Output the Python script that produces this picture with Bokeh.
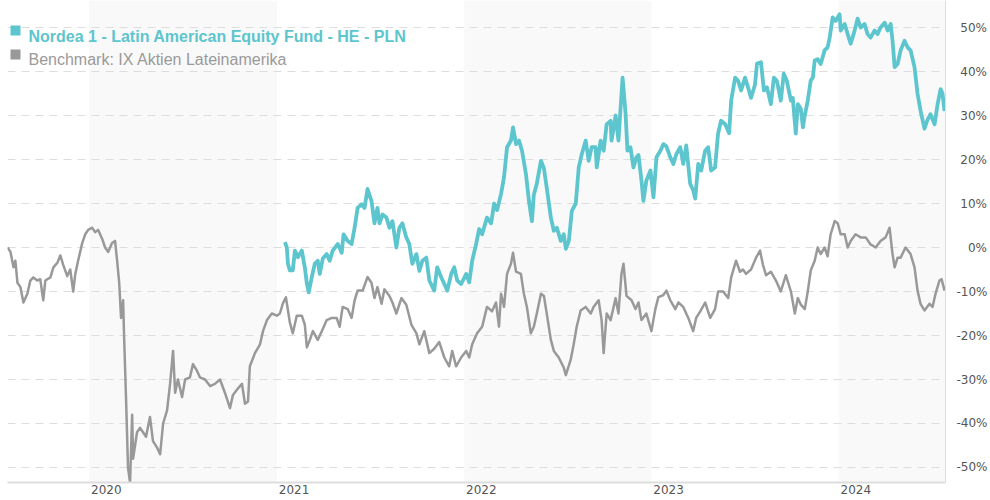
import pandas as pd
from bokeh.plotting import figure
from bokeh.models import Range1d, FixedTicker, Label, BoxAnnotation, ColumnDataSource
from bokeh.embed import file_html
from bokeh.resources import INLINE

FUND_NAME = "Nordea 1 - Latin American Equity Fund - HE - PLN"
BENCH_NAME = "Benchmark: IX Aktien Lateinamerika"

# decimal years and cumulative performance in %
BENCH_T = [2019.564, 2019.580, 2019.596, 2019.606, 2019.617, 2019.633, 2019.649, 2019.670, 2019.686, 2019.702,
           2019.723, 2019.739, 2019.755, 2019.766, 2019.793, 2019.809, 2019.830, 2019.846, 2019.862, 2019.883,
           2019.899, 2019.915, 2019.926, 2019.941, 2019.963, 2019.979, 2019.995, 2020.016, 2020.032, 2020.048,
           2020.069, 2020.085, 2020.101, 2020.122, 2020.138, 2020.149, 2020.160, 2020.170, 2020.181, 2020.186,
           2020.197, 2020.207, 2020.218, 2020.229, 2020.234, 2020.255, 2020.271, 2020.287, 2020.303, 2020.324,
           2020.340, 2020.362, 2020.378, 2020.394, 2020.415, 2020.431, 2020.447, 2020.458, 2020.473, 2020.495,
           2020.511, 2020.537, 2020.553, 2020.574, 2020.590, 2020.617, 2020.644, 2020.670, 2020.697, 2020.723,
           2020.750, 2020.766, 2020.793, 2020.814, 2020.830, 2020.846, 2020.856, 2020.883, 2020.910, 2020.926,
           2020.947, 2020.973, 2021.000, 2021.016, 2021.032, 2021.048, 2021.069, 2021.085, 2021.106, 2021.133,
           2021.149, 2021.160, 2021.176, 2021.192, 2021.218, 2021.245, 2021.266, 2021.293, 2021.319, 2021.335,
           2021.351, 2021.378, 2021.399, 2021.415, 2021.431, 2021.458, 2021.484, 2021.505, 2021.521, 2021.537,
           2021.559, 2021.574, 2021.601, 2021.617, 2021.638, 2021.665, 2021.691, 2021.718, 2021.745, 2021.761,
           2021.787, 2021.814, 2021.840, 2021.867, 2021.894, 2021.920, 2021.936, 2021.957, 2021.984, 2022.011,
           2022.027, 2022.043, 2022.069, 2022.096, 2022.122, 2022.149, 2022.170, 2022.186, 2022.197, 2022.213,
           2022.229, 2022.250, 2022.261, 2022.277, 2022.303, 2022.319, 2022.335, 2022.356, 2022.372, 2022.388,
           2022.410, 2022.426, 2022.441, 2022.463, 2022.479, 2022.505, 2022.532, 2022.543, 2022.569, 2022.585,
           2022.601, 2022.622, 2022.649, 2022.676, 2022.691, 2022.718, 2022.734, 2022.745, 2022.761, 2022.782,
           2022.809, 2022.824, 2022.840, 2022.851, 2022.867, 2022.894, 2022.915, 2022.931, 2022.947, 2022.973,
           2023.000, 2023.021, 2023.037, 2023.064, 2023.080, 2023.101, 2023.128, 2023.144, 2023.170, 2023.197,
           2023.223, 2023.239, 2023.261, 2023.287, 2023.314, 2023.340, 2023.356, 2023.383, 2023.410, 2023.426,
           2023.452, 2023.473, 2023.489, 2023.505, 2023.532, 2023.559, 2023.580, 2023.596, 2023.612, 2023.638,
           2023.665, 2023.691, 2023.718, 2023.745, 2023.766, 2023.782, 2023.798, 2023.819, 2023.835, 2023.851,
           2023.872, 2023.888, 2023.904, 2023.925, 2023.941, 2023.957, 2023.979, 2023.995, 2024.011, 2024.032,
           2024.048, 2024.064, 2024.090, 2024.117, 2024.144, 2024.170, 2024.197, 2024.223, 2024.250, 2024.271,
           2024.287, 2024.298, 2024.314, 2024.330, 2024.356, 2024.383, 2024.404, 2024.420, 2024.436, 2024.457,
           2024.484, 2024.500, 2024.516, 2024.537, 2024.548, 2024.564]
BENCH_V = [0, -1, -4.5, -3, -8, -9, -12.5, -10.5, -7.5, -6.8,
           -7.5, -7.2, -12, -7.5, -6.8, -4.5, -3.5, -1.8, -4, -6.5,
           -5, -10, -6, -3, 1, 3, 4, 4.5, 3.5, 4,
           2, 0, -1, 1, 1.5, -3, -8, -16, -12, -20,
           -35, -50, -53.5, -38, -48, -42, -41, -42, -43, -38.5,
           -44, -45.5, -47, -40, -37, -31, -23.5, -33, -30, -34,
           -30, -29.5, -26.5, -28, -29.5, -30, -31.5, -31, -30, -33,
           -36.5, -33.5, -32, -31, -35.5, -35, -27, -24, -22, -19,
           -16.5, -15, -15.5, -15, -12.7, -11.3, -17, -19.5, -15.5, -15.5,
           -17.5, -22.7, -21, -19, -21, -18.5, -16.5, -16, -16, -18,
           -13.5, -14, -16, -12, -9.8, -9.8, -6.7, -8, -11.5, -9,
           -12.8, -9.5, -11, -12.5, -15, -11.5, -13, -17.5, -19.5, -22,
           -19, -24, -23, -21.5, -25, -27, -23.5, -27, -25, -23.5,
           -25, -22, -19.5, -18, -13.5, -14.5, -12.5, -18, -10.5, -13.5,
           -6, -3.7, -1.2, -5.5, -6, -10.5, -13.5, -19.5, -18, -15,
           -10.5, -11, -15, -21, -23.5, -25, -27.3, -29, -25.5, -22,
           -18, -14.3, -13.5, -15, -13.5, -12, -16.5, -24, -15, -16.5,
           -11.5, -15, -6, -3.7, -11, -12, -14, -12.5, -16.5, -15,
           -19, -14, -11.3, -10.8, -9.8, -12, -14, -12.5, -13.5, -16,
           -19, -16, -14.5, -12.5, -16, -14, -10, -10, -11.5, -6.8,
           -3, -5.5, -5, -6, -5, -2.3, -0.7, -4, -6.3, -5.5,
           -7.5, -10, -6.3, -10, -15, -11.5, -13, -14, -10, -5.2,
           -3, 0, -1.5, 0, -2, 3, 6, 5.5, 3, 3,
           0, 1.5, 3, 2.3, 2.3, 0.7, 0, 1.5, 2.3, 4.5,
           -1.5, -4.5, -2.3, -2.3, 0, -1.5, -4.5, -9.8, -12.8, -14.3,
           -12.8, -13.5, -10.5, -7.5, -7.2, -9.8]

FUND_T = [2021.043, 2021.053, 2021.059, 2021.069, 2021.085, 2021.096, 2021.112, 2021.133, 2021.149, 2021.160,
          2021.170, 2021.186, 2021.202, 2021.218, 2021.229, 2021.245, 2021.266, 2021.282, 2021.298, 2021.325,
          2021.346, 2021.356, 2021.378, 2021.399, 2021.415, 2021.431, 2021.452, 2021.468, 2021.484, 2021.505,
          2021.521, 2021.537, 2021.548, 2021.564, 2021.585, 2021.601, 2021.617, 2021.638, 2021.654, 2021.670,
          2021.691, 2021.707, 2021.723, 2021.745, 2021.761, 2021.777, 2021.798, 2021.814, 2021.840, 2021.856,
          2021.878, 2021.894, 2021.910, 2021.931, 2021.947, 2021.963, 2021.984, 2022.011, 2022.027, 2022.043,
          2022.064, 2022.080, 2022.096, 2022.122, 2022.144, 2022.160, 2022.176, 2022.197, 2022.213, 2022.229,
          2022.250, 2022.261, 2022.277, 2022.293, 2022.309, 2022.330, 2022.346, 2022.362, 2022.372, 2022.388,
          2022.410, 2022.426, 2022.441, 2022.463, 2022.479, 2022.495, 2022.516, 2022.532, 2022.543, 2022.559,
          2022.575, 2022.596, 2022.612, 2022.628, 2022.649, 2022.665, 2022.681, 2022.702, 2022.708, 2022.729,
          2022.745, 2022.761, 2022.782, 2022.787, 2022.809, 2022.824, 2022.846, 2022.862, 2022.872, 2022.888,
          2022.904, 2022.920, 2022.931, 2022.947, 2022.957, 2022.973, 2022.995, 2023.011, 2023.027, 2023.048,
          2023.064, 2023.080, 2023.101, 2023.117, 2023.133, 2023.154, 2023.170, 2023.186, 2023.207, 2023.223,
          2023.234, 2023.250, 2023.266, 2023.287, 2023.303, 2023.319, 2023.340, 2023.356, 2023.372, 2023.394,
          2023.415, 2023.426, 2023.447, 2023.463, 2023.479, 2023.500, 2023.516, 2023.532, 2023.553, 2023.564,
          2023.585, 2023.601, 2023.617, 2023.638, 2023.654, 2023.670, 2023.691, 2023.707, 2023.723, 2023.745,
          2023.755, 2023.771, 2023.782, 2023.798, 2023.809, 2023.819, 2023.835, 2023.851, 2023.862, 2023.872,
          2023.888, 2023.904, 2023.925, 2023.941, 2023.952, 2023.968, 2023.984, 2024.005, 2024.011, 2024.032,
          2024.048, 2024.064, 2024.085, 2024.101, 2024.117, 2024.138, 2024.154, 2024.170, 2024.191, 2024.207,
          2024.223, 2024.245, 2024.261, 2024.277, 2024.287, 2024.298, 2024.314, 2024.330, 2024.351, 2024.367,
          2024.383, 2024.404, 2024.420, 2024.436, 2024.457, 2024.473, 2024.489, 2024.511, 2024.527, 2024.543,
          2024.553, 2024.564]
FUND_V = [1.2, 0, -3.7, -5.2, -5.2, -0.7, -2.2, -0.7, -4.5, -8.2,
          -10.2, -6.8, -3.7, -3, -6, -2.5, -1.5, -3, -0.7, 0.8,
          -1.2, 3, 1.5, 0.8, 4.5, 9, 9.8, 9, 13.3, 10.6,
          5.5, 9, 5.5, 7.5, 6.8, 4.5, 6, 0, 4.5, 5.5,
          2.3, 0.8, -3.7, -1.5, -5.3, -3, -2.3, -7.5, -9.8, -4.5,
          -6.8, -8.3, -9.8, -6, -4.5, -7.5, -8.3, -6, -7.9, -3,
          0.8, 4.2, 3, 6.8, 5.5, 10, 8.5, 12.2, 16, 22.8,
          24.3, 27.3, 23.5, 24.3, 22, 16.7, 10.6, 6, 12, 14.5,
          19.7, 18, 13.6, 6.8, 3.8, 4.5, 1.5, 3, -0.3, 1.5,
          8.3, 10, 18.2, 21.2, 24.3, 19.7, 22.8, 22.8, 18.2, 24.3,
          22, 28, 28.8, 24.3, 30, 24.3, 38.6, 30.5, 22, 22.8,
          18.2, 20.5, 21, 15.2, 10.6, 15.2, 17.5, 11.4, 20.5, 22,
          23.5, 23, 20.5, 19, 21.2, 22.8, 19, 23.2, 14.5, 13,
          11.1, 19, 17.5, 22, 22.8, 17.5, 18.2, 25.9, 28.8, 28,
          26, 33.4, 38.6, 37.9, 35.7, 38.6, 36.4, 34, 37, 41.8,
          42.1, 35.7, 36.4, 32.6, 38.6, 37.9, 33.4, 39.5, 37.9, 33.4,
          34, 25.9, 32.6, 31.5, 27.3, 30, 33.4, 38, 38.6, 42.5,
          42.8, 41.7, 44.8, 45.5, 47.7, 52.3, 51.5, 53, 49.3, 50.8,
          48.5, 46.3, 49.3, 52, 50, 50.8, 48.5, 47.7, 49.3, 48.5,
          50, 51.1, 49.3, 50.8, 47, 41, 41.7, 44.8, 47, 45.5,
          44.8, 41, 35, 31.1, 27, 29, 30.3, 28, 32.6, 36,
          35, 31]

Y_TICKS = [-50, -40, -30, -20, -10, 0, 10, 20, 30, 40, 50]
Y_LABELS = ["-50%", "-40%", "-30%", "-20%", "-10%", "0%", "10%", "20%", "30%", "40%", "50%"]
X_YEARS = [2020, 2021, 2022, 2023, 2024]
X_LABELS = ["2020", "2021", "2022", "2023", "2024"]
SHADED_YEARS = [2020, 2022, 2024]

X_START, X_END = 2019.564, 2024.569
Y_MIN, Y_MAX = -53.41, 56.14

FUND_COLOR = "#5cc5cd"
BENCH_COLOR = "#999999"
AXIS_TEXT = "#555555"


def to_ts(t):
    year = int(t)
    a = pd.Timestamp(year=year, month=1, day=1)
    b = pd.Timestamp(year=year + 1, month=1, day=1)
    return a + (t - year) * (b - a)


def pad_right_aligned(s):
    # mimic right alignment of the y tick labels with fixed-width spaces
    out = s
    if not s.startswith("-"):
        out = "\u00a0" + out
    if len(s.strip("-%")) == 1:
        out = "\u2007" + out
    return out


def pad_left_aligned(s):
    # centred axis labels: a leading blank of digit widths moves the text so it starts at the tick
    return "\u2007" * len(s) + "\u00a0" + s


x0, x1 = to_ts(X_START), to_ts(X_END)

p = figure(width=990, height=500, x_axis_type="datetime", y_axis_location="right",
           x_range=Range1d(x0, x1), y_range=Range1d(Y_MIN, Y_MAX),
           output_backend="svg", toolbar_location=None,
           min_border_left=7, min_border_top=0, min_border_right=42, min_border_bottom=18)
p.outline_line_color = None
p.background_fill_color = "white"
p.border_fill_color = "white"

# alternating year bands
lefts = [to_ts(y) for y in SHADED_YEARS]
rights = [min(to_ts(y + 1), x1) for y in SHADED_YEARS]
p.quad(left=lefts, right=rights, bottom=Y_MIN, top=Y_MAX, fill_color="#f9f9f9",
       line_color=None, level="image")

# grid
p.xgrid.visible = False
p.ygrid.ticker = FixedTicker(ticks=Y_TICKS)
p.ygrid.grid_line_color = "#dddddd"
p.ygrid.grid_line_dash = "8 6"
p.ygrid.grid_line_width = 1

# right y axis
p.yaxis.ticker = FixedTicker(ticks=Y_TICKS)
p.yaxis.major_label_overrides = {v: pad_right_aligned(l) for v, l in zip(Y_TICKS, Y_LABELS)}
p.yaxis.major_label_text_font = "DejaVu Sans"
p.yaxis.major_label_text_font_size = "12px"
p.yaxis.major_label_text_color = AXIS_TEXT
p.yaxis.major_tick_line_color = None
p.yaxis.major_tick_out = 0
p.yaxis.major_tick_in = 0
p.yaxis.minor_tick_line_color = None
p.yaxis.axis_line_color = "#dddddd"
p.yaxis.major_label_standoff = 11

# bottom x axis
year_ms = [to_ts(y).value / 1e6 for y in X_YEARS]
p.xaxis.ticker = FixedTicker(ticks=year_ms)
p.xaxis.major_label_overrides = {m: pad_left_aligned(l) for m, l in zip(year_ms, X_LABELS)}
p.xaxis.major_label_text_font = "DejaVu Sans"
p.xaxis.major_label_text_font_size = "12px"
p.xaxis.major_label_text_color = AXIS_TEXT
p.xaxis.major_tick_line_color = None
p.xaxis.major_tick_out = 0
p.xaxis.major_tick_in = 0
p.xaxis.minor_tick_line_color = None
p.xaxis.axis_line_color = "#dddddd"
p.xaxis.axis_line_width = 2
p.xaxis.major_label_standoff = 0

bench = ColumnDataSource(dict(x=[to_ts(t) for t in BENCH_T], y=BENCH_V))
fund = ColumnDataSource(dict(x=[to_ts(t) for t in FUND_T], y=FUND_V))
p.line("x", "y", source=bench, line_color=BENCH_COLOR, line_width=2.5, line_join="round")
p.line("x", "y", source=fund, line_color=FUND_COLOR, line_width=3.8, line_join="round")

# legend
p.add_layout(BoxAnnotation(left=3, right=13, bottom=447, top=457, left_units="screen",
                           right_units="screen", bottom_units="screen", top_units="screen",
                           fill_color=FUND_COLOR, fill_alpha=1, line_color=None))
p.add_layout(Label(x=21, y=446.5, x_units="screen", y_units="screen", text=FUND_NAME,
                   text_font="Liberation Sans", text_font_size="16px", text_font_style="bold",
                   text_color=FUND_COLOR, text_baseline="alphabetic"))
p.add_layout(BoxAnnotation(left=3, right=13, bottom=423, top=433, left_units="screen",
                           right_units="screen", bottom_units="screen", top_units="screen",
                           fill_color=BENCH_COLOR, fill_alpha=1, line_color=None))
p.add_layout(Label(x=21, y=423, x_units="screen", y_units="screen", text=BENCH_NAME,
                   text_font="Liberation Sans", text_font_size="16px",
                   text_color="#9a9a9a", text_baseline="alphabetic"))

open("out.html", "w").write(file_html(p, INLINE))
